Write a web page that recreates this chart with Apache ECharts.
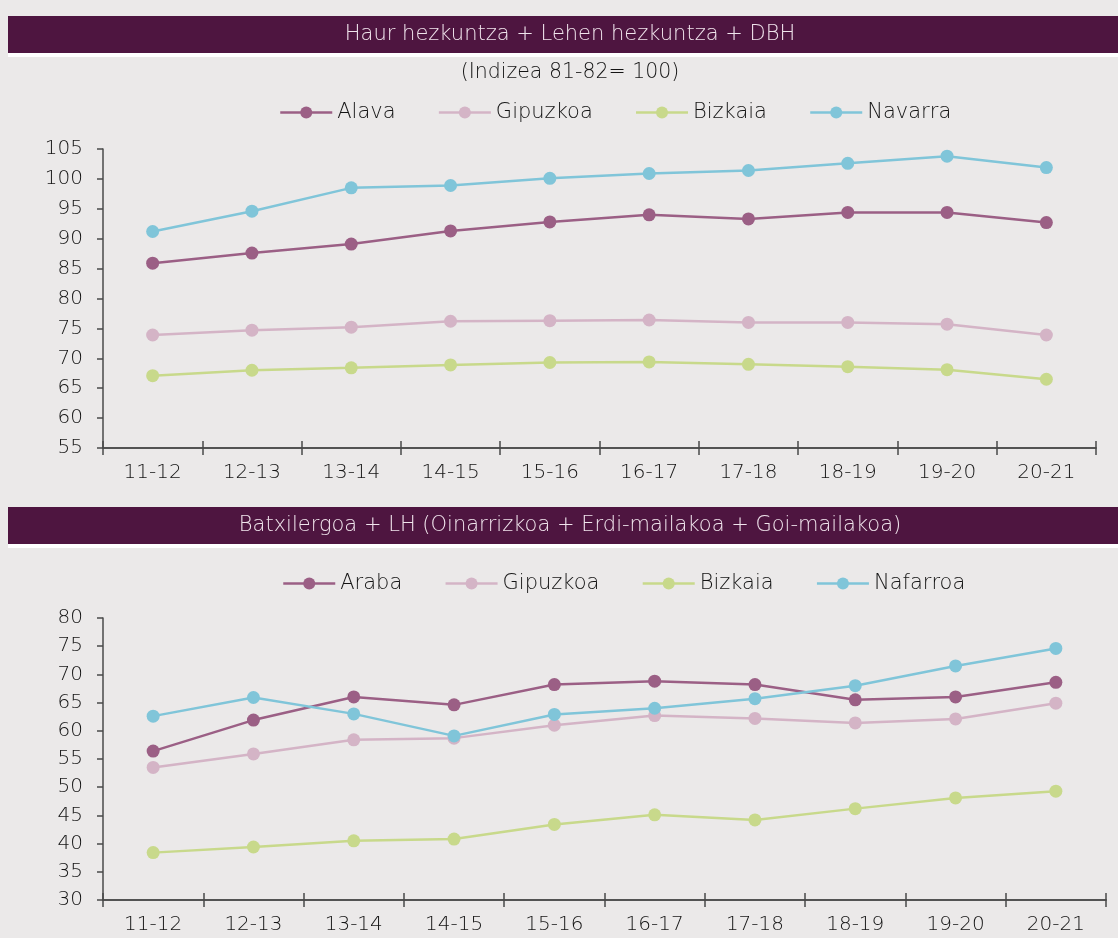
<!DOCTYPE html>
<html>
<head>
<meta charset="utf-8">
<script src="https://cdn.jsdelivr.net/npm/echarts@6/dist/echarts.min.js"></script>
<style>
html,body{margin:0;padding:0;background:#EBE9E9;}
#c{width:1118px;height:938px;}
</style>
</head>
<body>
<div id="c"></div>
<script>
const categories = ['11-12','12-13','13-14','14-15','15-16','16-17','17-18','18-19','19-20','20-21'];

const title1 = 'Haur hezkuntza + Lehen hezkuntza + DBH';
const subtitle1 = '(Indizea 81-82= 100)';
const title2 = 'Batxilergoa + LH (Oinarrizkoa + Erdi-mailakoa + Goi-mailakoa)';

const names1 = ['Alava','Gipuzkoa','Bizkaia','Navarra'];
const alava1    = [85.9, 87.6, 89.1, 91.3, 92.8, 94.0, 93.3, 94.4, 94.4, 92.7];
const gipuzkoa1 = [73.9, 74.7, 75.2, 76.2, 76.3, 76.4, 76.0, 76.0, 75.7, 73.9];
const bizkaia1  = [67.1, 68.0, 68.4, 68.9, 69.3, 69.4, 69.0, 68.6, 68.1, 66.5];
const navarra1  = [91.2, 94.6, 98.5, 98.9, 100.1, 100.9, 101.4, 102.6, 103.8, 101.9];

const names2 = ['Araba','Gipuzkoa','Bizkaia','Nafarroa'];
const araba2    = [56.4, 61.9, 66.0, 64.6, 68.2, 68.8, 68.2, 65.5, 66.0, 68.6];
const gipuzkoa2 = [53.5, 55.9, 58.4, 58.7, 61.0, 62.7, 62.2, 61.4, 62.1, 64.9];
const bizkaia2  = [38.4, 39.4, 40.5, 40.8, 43.4, 45.1, 44.2, 46.2, 48.1, 49.3];
const nafarroa2 = [62.6, 65.9, 63.0, 59.1, 62.9, 64.0, 65.7, 68.0, 71.5, 74.6];

const yTicks1 = {min:55, max:105, interval:5};
const yTicks2 = {min:30, max:80, interval:5};

const colors = ['#9B5F85','#D4B4C6','#C8D98B','#80C5D9'];
const FONT = '"DejaVu Sans ExtraLight", "DejaVu Sans"';
const FW = 200;
const TXT = '#141414';
const AX = '#4a4a4a';

const chart = echarts.init(document.getElementById('c'), null, {renderer:'canvas'});

function xAx(gridIndex, withLabels, inside){
  return {
    type:'category', gridIndex, data:categories, boundaryGap:true, position:'bottom',
    axisLine:{show:true, lineStyle:{color:AX, width:1.5}},
    axisTick:{show:true, inside:inside, length:7, lineStyle:{color:AX, width:1.5}},
    axisLabel:{show:withLabels, color:TXT, fontFamily:FONT, fontWeight:FW, fontSize:20, margin:15},
    splitLine:{show:false}
  };
}
function yAx(gridIndex, t){
  return {
    type:'value', gridIndex, min:t.min, max:t.max, interval:t.interval,
    axisLine:{show:true, lineStyle:{color:AX, width:1.5}},
    axisTick:{show:true, length:6, lineStyle:{color:AX, width:1.5}},
    axisLabel:{color:TXT, fontFamily:FONT, fontWeight:FW, fontSize:20, margin:20},
    splitLine:{show:false}
  };
}
function ser(name, data, ci, axIdx){
  return {
    name, type:'line', data, xAxisIndex:axIdx, yAxisIndex:axIdx/2|0,
    symbol:'circle', symbolSize:13, color:colors[ci],
    lineStyle:{width:2.5, color:colors[ci]},
    itemStyle:{color:colors[ci]},
    animation:false
  };
}
function legendItem(names){
  return names.map(n=>({name:n}));
}

const option = {
  backgroundColor:'#EBE9E9',
  animation:false,
  grid:[
    {left:103, top:149, width:993, height:299},
    {left:103, top:618, width:1003, height:282}
  ],
  xAxis:[xAx(0,true,false), xAx(0,false,true), xAx(1,true,false), xAx(1,false,true)],
  yAxis:[yAx(0,yTicks1), yAx(1,yTicks2)],
  legend:[
    {data:legendItem(names1), left:279, top:102, padding:0, itemWidth:52, itemHeight:15, itemGap:42,
     lineStyle:{width:2.5},
     textStyle:{color:TXT, fontFamily:FONT, fontWeight:FW, fontSize:21}, selectedMode:false},
    {data:legendItem(names2), left:282, top:573, padding:0, itemWidth:52, itemHeight:15, itemGap:42,
     lineStyle:{width:2.5},
     textStyle:{color:TXT, fontFamily:FONT, fontWeight:FW, fontSize:21}, selectedMode:false}
  ],
  graphic:[
    {type:'rect', shape:{x:8, y:16, width:1110, height:37}, style:{fill:'#4E1540'}, z:-1},
    {type:'rect', shape:{x:8, y:53, width:1110, height:4}, style:{fill:'#FFFFFF'}, z:-1},
    {type:'text', x:570, y:35, style:{text:title1, fill:'#F0E4EC', fontFamily:FONT, fontWeight:FW, fontSize:21, textAlign:'center', textVerticalAlign:'middle'}},
    {type:'text', x:570, y:73, style:{text:subtitle1, fill:TXT, fontFamily:FONT, fontWeight:FW, fontSize:20.5, textAlign:'center', textVerticalAlign:'middle'}},
    {type:'rect', shape:{x:8, y:507, width:1110, height:37}, style:{fill:'#4E1540'}, z:-1},
    {type:'rect', shape:{x:8, y:544, width:1110, height:4}, style:{fill:'#FFFFFF'}, z:-1},
    {type:'text', x:570, y:526, style:{text:title2, fill:'#F0E4EC', fontFamily:FONT, fontWeight:FW, fontSize:21, textAlign:'center', textVerticalAlign:'middle'}}
  ],
  series:[
    ser(names1[0], alava1, 0, 0),
    ser(names1[1], gipuzkoa1, 1, 0),
    ser(names1[2], bizkaia1, 2, 0),
    ser(names1[3], navarra1, 3, 0),
    ser(names2[0], araba2, 0, 2),
    ser(names2[1], gipuzkoa2, 1, 2),
    ser(names2[2], bizkaia2, 2, 2),
    ser(names2[3], nafarroa2, 3, 2)
  ]
};
chart.setOption(option);
</script>
</body>
</html>
